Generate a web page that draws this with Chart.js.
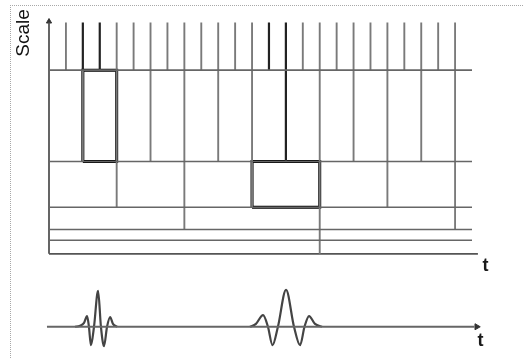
<!DOCTYPE html>
<html>
<head>
<meta charset="utf-8">
<script src="https://cdn.jsdelivr.net/npm/chart.js@4/dist/chart.umd.min.js"></script>
<style>
  html, body { margin: 0; padding: 0; background: #fff; }
  #wrap { position: relative; width: 524px; height: 358px; overflow: hidden; }
  #frame { position: absolute; left: 10px; top: 5px; width: 530px; height: 360px;
           border-top: 1px dotted #a8a8a8; border-left: 1px dotted #a8a8a8; }
  canvas { position: absolute; left: 0; top: 0; }
</style>
</head>
<body>
<div id="wrap">
  <div id="frame"></div>
  <canvas id="chart" width="524" height="358"></canvas>
</div>
<script>
// time runs in cell units, scale in levels measured up from the t axis
const nCells = 25;
const rowEdges = [0, 14, 25, 48, 95, 189, 238];   // tile row boundaries, bottom to top
const rowSteps = [16, 16, 8, 4, 2, 1];            // tile width of each row
const boxT0 = [2, 12];
const boxT1 = [4, 16];
const boxS0 = [95, 48];
const boxS1 = [189, 95];
// tile edges drawn darker (row index, time)
const darkRow = [5, 5, 5, 5, 4];
const darkT = [2, 3, 13, 14, 14];

// wavelets under the tiling
const waveBase = -75;
const wave1T = [1.54, 1.83, 2.07, 2.25, 2.36, 2.48, 2.66, 2.90, 3.07, 3.25, 3.43, 3.61, 3.78, 4.02];
const wave1A = [0, 1, 4, 11, 0, -19, 0, 37, 0, -20, 0, 10, 3, 0];
const wave2T = [11.88, 12.23, 12.65, 12.94, 13.21, 13.53, 14.01, 14.48, 14.84, 15.10, 15.37, 15.72, 16.13];
const wave2A = [0, 3, 12, 0, -19, 0, 38, 0, -19, 0, 11, 3, 0];

const GRAY = '#7a7a7a';
const datasets = [];

function seg(x0, y0, x1, y1, color, width) {
    datasets.push({
        data: [{ x: x0, y: y0 }, { x: x1, y: y1 }],
        showLine: true, borderColor: color, borderWidth: width,
        pointRadius: 0, clip: false
    });
}

function isDark(r, k) {
    for (let i = 0; i < darkRow.length; i++) {
        if (darkRow[i] === r && darkT[i] === k) return true;
    }
    return false;
}

// horizontal row boundaries
for (let r = 1; r < rowEdges.length - 1; r++) {
    seg(0, rowEdges[r], nCells, rowEdges[r], '#666', 1.6);
}

// vertical tile edges
for (let r = 0; r < rowSteps.length; r++) {
    for (let k = rowSteps[r]; k < nCells; k += rowSteps[r]) {
        if (isDark(r, k)) seg(k, rowEdges[r], k, rowEdges[r + 1], '#222', 2.2);
        else seg(k, rowEdges[r], k, rowEdges[r + 1], GRAY, 1.9);
    }
}

// axes
seg(0, 0, 0, 238, '#555', 1.8);
seg(0, 0, 25.35, 0, '#555', 1.8);
seg(-0.12, waveBase, 25.15, waveBase, '#666', 1.8);

// highlighted tiles
for (let i = 0; i < boxT0.length; i++) {
    datasets.push({
        data: [
            { x: boxT0[i], y: boxS0[i] }, { x: boxT1[i], y: boxS0[i] },
            { x: boxT1[i], y: boxS1[i] }, { x: boxT0[i], y: boxS1[i] },
            { x: boxT0[i], y: boxS0[i] }
        ],
        showLine: true, borderColor: '#000', borderWidth: 3,
        borderJoinStyle: 'miter', pointRadius: 0, clip: false
    });
}

// wavelets
[[wave1T, wave1A], [wave2T, wave2A]].forEach(([ts, as]) => {
    datasets.push({
        data: ts.map((t, i) => ({ x: t, y: waveBase + as[i] })),
        showLine: true, borderColor: '#444', borderWidth: 2.2,
        cubicInterpolationMode: 'monotone', pointRadius: 0, clip: false
    });
});

// arrow heads
datasets.push({
    data: [{ x: 25.45, y: 0 }, { x: 25.28, y: waveBase }],
    pointStyle: 'triangle', rotation: 90, pointRadius: 3.5,
    backgroundColor: '#333', borderColor: '#333', borderWidth: 1, clip: false
});
datasets.push({
    data: [{ x: 0, y: 239 }],
    pointStyle: 'triangle', rotation: 0, pointRadius: 3,
    backgroundColor: '#333', borderColor: '#333', borderWidth: 1, clip: false
});

const labels = {
    id: 'labels',
    afterDraw(chart) {
        const c = chart.ctx;
        const xs = chart.scales.x, ys = chart.scales.y;
        c.save();
        c.fillStyle = '#111';
        c.font = '19px "Liberation Sans", Arial, sans-serif';
        c.textAlign = 'center';
        c.textBaseline = 'middle';
        c.translate(24, 33);
        c.rotate(-Math.PI / 2);
        c.fillText('Scale', 0, 0);
        c.restore();

        c.save();
        c.fillStyle = '#1a1a1a';
        c.font = 'bold 18px "Liberation Sans", Arial, sans-serif';
        c.textAlign = 'center';
        c.textBaseline = 'middle';
        c.fillText('t', xs.getPixelForValue(25.8), ys.getPixelForValue(0) + 12);
        c.fillText('t', xs.getPixelForValue(25.5), ys.getPixelForValue(waveBase) + 14);
        c.restore();
    }
};

new Chart(document.getElementById('chart').getContext('2d'), {
    type: 'scatter',
    data: { datasets: datasets },
    options: {
        responsive: false,
        animation: false,
        events: [],
        layout: { padding: { left: 49, right: 52, top: 0, bottom: 0 } },
        scales: {
            x: { type: 'linear', min: 0, max: nCells, display: false },
            y: { type: 'linear', min: -102, max: 256, display: false }
        },
        plugins: { legend: { display: false }, tooltip: { enabled: false } }
    },
    plugins: [labels]
});
</script>
</body>
</html>
